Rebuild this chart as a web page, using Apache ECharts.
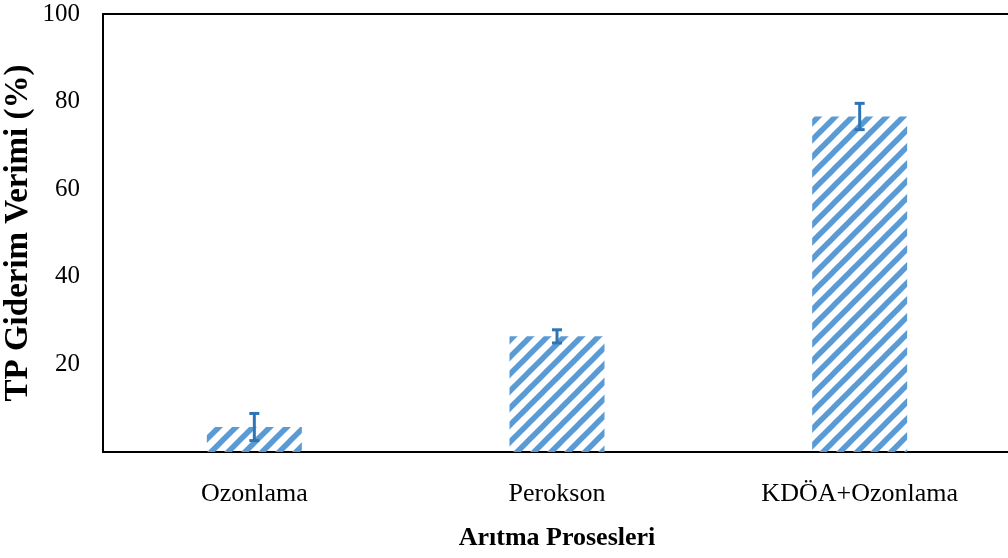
<!DOCTYPE html>
<html>
<head>
<meta charset="utf-8">
<script src="https://cdn.jsdelivr.net/npm/echarts@6/dist/echarts.min.js"></script>
<style>html,body{margin:0;padding:0;background:#fff;}#c{width:1008px;height:558px;}</style>
</head>
<body>
<div id="c"></div>
<script>
const categories = ['Ozonlama', 'Perokson', 'KDÖA+Ozonlama'];
const values = [5.7, 26.4, 76.6];
const errors = [3.1, 1.5, 3.0];
const yTicks = [20, 40, 60, 80, 100];

const tile = document.createElement('canvas');
tile.width = 17; tile.height = 17;
const ctx = tile.getContext('2d');
ctx.strokeStyle = '#5B9BD5';
ctx.lineWidth = 5.5;
[0, 17, 34].forEach(function (s) {
  ctx.beginPath();
  ctx.moveTo(s - 20, 20);
  ctx.lineTo(s + 20, -20);
  ctx.stroke();
});

const font = '"Liberation Serif", "Times New Roman", serif';
const chart = echarts.init(document.getElementById('c'));
chart.setOption({
  animation: false,
  grid: { left: 103, right: -3, top: 14, bottom: 106, containLabel: false, outerBoundsMode: 'none' },
  xAxis: [{
    type: 'category',
    data: categories,
    axisLine: { lineStyle: { color: '#000', width: 2 } },
    axisTick: { show: false },
    axisLabel: { color: '#000', fontFamily: font, fontSize: 26, margin: 29 },
    name: 'Arıtma Prosesleri',
    nameLocation: 'middle',
    nameGap: 73,
    nameMoveOverlap: false,
    nameTextStyle: { color: '#000', fontFamily: font, fontSize: 26, fontWeight: 'bold' }
  }, {
    type: 'category',
    position: 'top',
    data: categories,
    axisLine: { show: true, lineStyle: { color: '#000', width: 2 } },
    axisTick: { show: false },
    axisLabel: { show: false }
  }],
  yAxis: {
    type: 'value',
    min: 0, max: 100, interval: 20,
    axisLine: { show: true, lineStyle: { color: '#000', width: 2 } },
    axisTick: { show: false },
    splitLine: { show: false },
    axisLabel: {
      color: '#000', fontFamily: font, fontSize: 25, margin: 23,
      formatter: function (v) { return yTicks.indexOf(v) >= 0 ? String(v) : ''; }
    },
    name: 'TP Giderim Verimi (%)',
    nameLocation: 'middle',
    nameGap: 68,
    nameMoveOverlap: false,
    nameTextStyle: { color: '#000', fontFamily: font, fontSize: 33, fontWeight: 'bold' }
  },
  series: [{
    type: 'bar',
    data: values,
    barWidth: 95,
    itemStyle: { color: { image: tile, repeat: 'repeat' } }
  }, {
    type: 'custom',
    data: values.map(function (v, i) { return [i, v - errors[i], v + errors[i]]; }),
    z: 10,
    renderItem: function (params, api) {
      const lo = api.coord([api.value(0), api.value(1)]);
      const hi = api.coord([api.value(0), api.value(2)]);
      const hw = 5;
      const st = { stroke: '#2E75B6', lineWidth: 3 };
      return {
        type: 'group',
        children: [
          { type: 'line', shape: { x1: lo[0], y1: lo[1], x2: hi[0], y2: hi[1] }, style: st },
          { type: 'line', shape: { x1: lo[0] - hw, y1: lo[1], x2: lo[0] + hw, y2: lo[1] }, style: st },
          { type: 'line', shape: { x1: hi[0] - hw, y1: hi[1], x2: hi[0] + hw, y2: hi[1] }, style: st }
        ]
      };
    }
  }]
});
</script>
</body>
</html>
